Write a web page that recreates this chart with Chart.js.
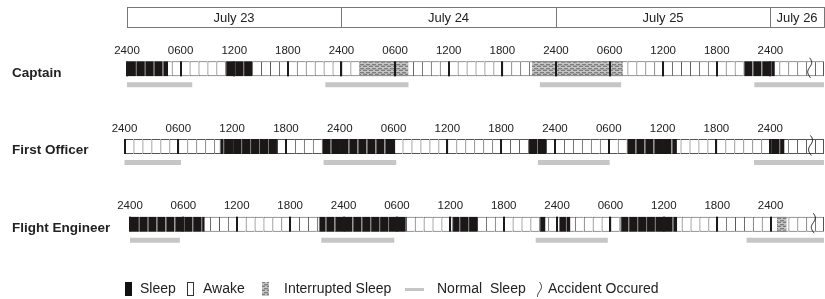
<!DOCTYPE html>
<html>
<head>
<meta charset="utf-8">
<script src="https://cdn.jsdelivr.net/npm/chart.js@4.4.1/dist/chart.umd.min.js"></script>
<style>
  body { margin: 0; background: #fff; }
  #caja { width: 825px; height: 299px; }
</style>
</head>
<body>
<div id="caja"><canvas id="grafica"></canvas></div>
<script>
// Datos (horas desde la medianoche del 23 de julio)
var filas = ['Captain', 'First Officer', 'Flight Engineer'];
var dias = ['July 23', 'July 24', 'July 25', 'July 26'];
var diasInicio = [0, 24, 48, 72];
var etiquetasHora = ['2400', '0600', '1200', '1800'];
var horasTotal = 78;

var suenoCap = [[0, 4.6], [11, 14], [69, 72.5]];
var suenoFO = [[10.6, 17.1], [22, 30.2], [45, 47], [56, 61.6], [72, 73.6]];
var suenoFE = [[0, 8.4], [21.2, 31.1], [36.2, 39.1], [46, 46.7], [48.2, 49.5], [55.1, 61.5]];

var interrCap = [[26, 31.5], [45.3, 55.5]];
var interrFO = [];
var interrFE = [[72.7, 73.8]];

var normalCap = [[0, 7.3], [22.2, 31.5], [46.2, 55.3], [70.2, 78]];
var normalFO = [[0, 6.3], [22.2, 30.3], [46.1, 54.1], [70.2, 78]];
var normalFE = [[0, 5.6], [21.5, 29.7], [45.6, 53.7], [69.3, 78]];

var accidente = [76.4, 76.5, 76.8];

var sueno = [suenoCap, suenoFO, suenoFE];
var interr = [interrCap, interrFO, interrFE];
var normal = [normalCap, normalFO, normalFE];

// Posicion de cada fila en pixeles (las filas del original no estan alineadas)
var origen = [127, 124.5, 130];
var fin = [824, 824, 824];
var areaIzq = 124, areaDer = 824;
var desplNormal = 0.206;
var fuente = "'Liberation Sans', Arial, sans-serif";

// Trama del sueno interrumpido
var trama = (function () {
    var c = document.createElement('canvas');
    c.width = 6; c.height = 4;
    var g = c.getContext('2d');
    g.fillStyle = '#c4c4c4'; g.fillRect(0, 0, 6, 4);
    g.fillStyle = '#7e7e7e';
    g.fillRect(0, 0, 4, 1);
    g.fillRect(3, 2, 3, 1); g.fillRect(0, 2, 1, 1);
    g.fillStyle = '#a8a8a8';
    g.fillRect(0, 1, 6, 1);
    return g.createPattern(c, 'repeat');
})();

// Trocear en horas para que se vean los separadores
function trocear(tramos) {
    var out = [];
    tramos.forEach(function (t) {
        var a = t[0];
        while (a < t[1]) {
            var b = Math.min(Math.floor(a) + 1, t[1]);
            out.push([a, b]);
            a = b;
        }
    });
    return out;
}

var datasets = [];
var escalas = {
    y: { type: 'linear', min: -0.5, max: 2.5, reverse: true, offset: false, display: false }
};

filas.forEach(function (nombre, r) {
    var k = (fin[r] - origen[r]) / horasTotal;
    escalas['x' + r] = {
        type: 'linear', axis: 'x', position: 'bottom', display: false,
        min: (areaIzq - origen[r]) / k,
        max: (areaDer - origen[r]) / k
    };

    var celdas = [];
    for (var h = 0; h < horasTotal; h++) celdas.push({ x: [h, h + 1], y: r });
    datasets.push({
        label: 'Awake', data: celdas, xAxisID: 'x' + r, order: 3,
        backgroundColor: '#ffffff', borderColor: '#555555',
        borderWidth: function (c) {
            return { left: 1, top: 1, bottom: 1, right: c.dataIndex === horasTotal - 1 ? 1 : 0 };
        }
    });

    datasets.push({
        label: 'Sleep', xAxisID: 'x' + r, order: 1,
        data: trocear(sueno[r]).map(function (t) { return { x: t, y: r }; }),
        backgroundColor: '#1b1716', borderColor: '#7a7a7a',
        borderWidth: { left: 1, top: 0, bottom: 0, right: 0 }
    });

    datasets.push({
        label: 'Interrupted Sleep', xAxisID: 'x' + r, order: 1,
        data: interr[r].map(function (t) { return { x: t, y: r }; }),
        backgroundColor: trama, borderColor: '#777777',
        borderWidth: { left: 0, top: 1, bottom: 1, right: 0 }
    });

    datasets.push({
        label: 'Normal Sleep', xAxisID: 'x' + r, order: 2, barThickness: 5,
        data: normal[r].map(function (t) { return { x: t, y: r + desplNormal }; }),
        backgroundColor: '#c6c6c6', borderWidth: 0
    });
});

datasets.forEach(function (d) {
    d.yAxisID = 'y';
    d.grouped = false;
    d.clip = false;
    d.borderSkipped = false;
    d.inflateAmount = 0;
    if (!d.barThickness) d.barThickness = 15;
});

function onda(ctx, x, y0, y1) {
    ctx.beginPath();
    for (var y = y0; y <= y1; y += 0.5) {
        var dx = 2 * Math.sin((y - y0) / 3);
        if (y === y0) ctx.moveTo(x + dx, y); else ctx.lineTo(x + dx, y);
    }
    ctx.stroke();
}

var decorado = {
    id: 'decorado',
    afterDraw: function (chart) {
        var ctx = chart.ctx;
        var yS = chart.scales.y;
        ctx.save();

        // Cabecera de dias
        var xs = chart.scales.x0;
        ctx.strokeStyle = '#777';
        ctx.lineWidth = 1;
        ctx.font = '13px ' + fuente;
        ctx.fillStyle = '#222';
        ctx.textAlign = 'center';
        ctx.textBaseline = 'middle';
        dias.forEach(function (d, i) {
            var a = Math.round(xs.getPixelForValue(diasInicio[i]));
            var b = Math.round(xs.getPixelForValue(i < dias.length - 1 ? diasInicio[i + 1] : horasTotal));
            ctx.strokeRect(a + 0.5, 7.5, b - a, 20);
            ctx.fillText(d, (a + b) / 2, 18);
        });

        filas.forEach(function (nombre, r) {
            var xr = chart.scales['x' + r];
            var yc = yS.getPixelForValue(r);

            ctx.font = 'bold 13.5px ' + fuente;
            ctx.textAlign = 'left';
            ctx.fillStyle = '#222';
            ctx.fillText(nombre, 12, yc + 4);

            ctx.font = '11.5px ' + fuente;
            ctx.textAlign = 'center';
            for (var h = 0; h <= 72; h += 6) {
                var px = xr.getPixelForValue(h);
                ctx.fillStyle = '#222';
                ctx.fillText(etiquetasHora[(h / 6) % 4], px, yc - 18);
                ctx.fillStyle = '#1a1a1a';
                ctx.fillRect(Math.round(px) - 1, yc - 7.5, 2, 15);
            }

            ctx.strokeStyle = '#111';
            ctx.lineWidth = 1;
            onda(ctx, xr.getPixelForValue(accidente[r]), yc - 11, yc + 9);
        });

        // Leyenda
        var ly = 289;
        ctx.font = '14px ' + fuente;
        ctx.textAlign = 'left';
        ctx.fillStyle = '#111';
        ctx.fillRect(125, 282, 7, 14);
        ctx.fillStyle = '#222';
        ctx.fillText('Sleep', 140, ly);
        ctx.strokeStyle = '#333';
        ctx.strokeRect(187.5, 282.5, 6, 13);
        ctx.fillText('Awake', 203, ly);
        ctx.fillStyle = trama;
        ctx.fillRect(262, 282, 7, 14);
        ctx.fillStyle = '#222';
        ctx.fillText('Interrupted Sleep', 284, ly);
        ctx.fillStyle = '#c6c6c6';
        ctx.fillRect(405, 288, 19, 3);
        ctx.fillStyle = '#222';
        ctx.fillText('Normal  Sleep', 437, ly);
        ctx.strokeStyle = '#222';
        onda(ctx, 539.5, 282, 297);
        ctx.fillText('Accident Occured', 548, ly);

        ctx.restore();
    }
};

new Chart(document.getElementById('grafica'), {
    type: 'bar',
    data: { datasets: datasets },
    options: {
        indexAxis: 'y',
        responsive: true,
        maintainAspectRatio: false,
        animation: false,
        layout: { padding: { left: areaIzq, right: 825 - areaDer, top: 30, bottom: 36 } },
        scales: escalas,
        plugins: { legend: { display: false }, tooltip: { enabled: false } }
    },
    plugins: [decorado]
});
</script>
</body>
</html>
